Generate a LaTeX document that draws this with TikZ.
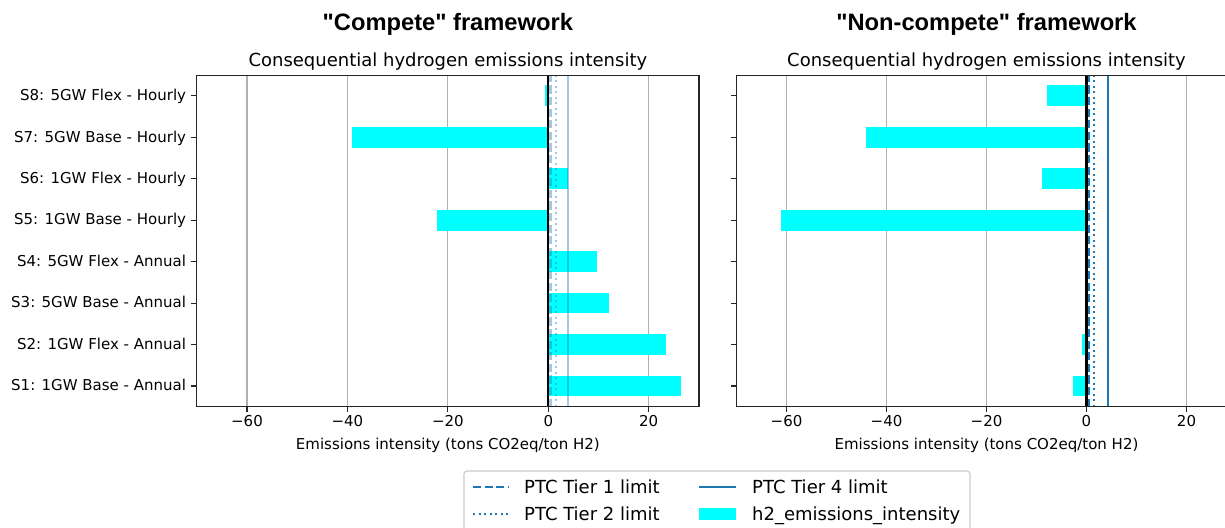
\documentclass[tikz,border=0pt]{standalone}
\usepackage{fontspec}
\setmainfont{DejaVu Sans}
\newfontfamily\titlefont{Liberation Sans}

\definecolor{tabblue}{HTML}{1F77B4}
\definecolor{barcyan}{HTML}{00FFFF}
\definecolor{gridgray}{HTML}{B0B0B0}
\definecolor{legendgray}{HTML}{CCCCCC}

\tikzset{
  framebox/.style={draw=black!85, line width=1.2pt},
  gridline/.style={draw=gridgray, line width=1.1pt},
  barfill/.style={fill=barcyan},
  tickmark/.style={draw=black!85, line width=1.2pt},
  zeroline/.style={draw=black, line width=2.2pt},
  tierone/.style={draw=tabblue, line width=2.2pt, dash pattern=on 8.1pt off 3.5pt},
  tiertwo/.style={draw=tabblue, line width=2.2pt, dash pattern=on 2.2pt off 3.3pt},
  tierfour/.style={draw=tabblue, line width=2.2pt},
  faded/.style={draw opacity=0.4},
  titletext/.style={font=\titlefont\bfseries\fontsize{23.7}{28}\selectfont, inner sep=0pt},
  subtitletext/.style={font=\fontsize{18}{22}\selectfont, inner sep=0pt},
  ticktext/.style={font=\fontsize{15}{18}\selectfont, inner sep=0pt},
  legendtext/.style={font=\fontsize{18}{22}\selectfont, inner sep=0pt, anchor=base west},
  legendframe/.style={draw=legendgray, line width=1.2pt, fill=white, rounded corners=3pt}
}

\begin{document}
\begin{tikzpicture}[x=1pt, y=-1pt]
  \clip (0,0) rectangle (1225,527);
  \fill[white] (0,0) rectangle (1225,527);

  \begin{scope}[shift={(548.3,386)}, x=5.022pt, y=41.45pt]
    \foreach \t in {-60,-40,...,20}
      \draw[gridline] (\t,-0.5) -- (\t,7.5);
    \foreach \v [count=\i from 0] in {26.4,23.4,12.1,9.6,-22.1,4.0,-39.1,-0.6}
      \fill[barfill] (0,\i-0.25) rectangle (\v,\i+0.25);
    \draw[zeroline] (0,-0.5) -- (0,7.5);
    \draw[tierone, faded] (0.45,-0.5) -- (0.45,7.5);
    \draw[tiertwo, faded] (1.5,-0.5) -- (1.5,7.5);
    \draw[tierfour, faded] (4,-0.5) -- (4,7.5);
    \draw[framebox] (-70,-0.5) rectangle (30,7.5);
    \foreach \lab [count=\i from 0] in {S1: 1GW Base - Annual,S2: 1GW Flex - Annual,S3: 5GW Base - Annual,S4: 5GW Flex - Annual,S5: 1GW Base - Hourly,S6: 1GW Flex - Hourly,S7: 5GW Base - Hourly,S8: 5GW Flex - Hourly}
    {
      \draw[tickmark] (-70,\i) -- ++(-5.5pt,0pt);
      \node[ticktext, anchor=mid east, xshift=-10.5pt, yshift=-2pt] (lcat\i) at (-70,\i) {\lab};
    }
    \foreach \t/\lab in {-60/−60,-40/−40,-20/−20,0/0,20/20}
    {
      \draw[tickmark] (\t,-0.5) -- ++(0pt,-5.5pt);
      \node[ticktext, anchor=base] at (\t,-0.5) [yshift=-19.8pt] {\lab};
    }
    \node[ticktext, anchor=base, yshift=-42.8pt] (lxlabel) at (-20,-0.5) {Emissions intensity (tons CO2eq/ton H2)};
    \node[subtitletext, anchor=base, yshift=9pt] (lsub) at (-20,7.5) {Consequential hydrogen emissions intensity};
    \node[titletext, anchor=base, yshift=45pt] (ltitle) at (-20,7.5) {"Compete" framework};
  \end{scope}

  \begin{scope}[shift={(1086.5,386)}, x=5pt, y=41.45pt]
    \foreach \t in {-60,-40,...,20}
      \draw[gridline] (\t,-0.5) -- (\t,7.5);
    \foreach \v [count=\i from 0] in {-2.7,-1.0,-0.2,0.3,-61.1,-9.0,-44.1,-8.0}
      \fill[barfill] (0,\i-0.25) rectangle (\v,\i+0.25);
    \draw[zeroline] (0,-0.5) -- (0,7.5);
    \draw[tierone] (0.45,-0.5) -- (0.45,7.5);
    \draw[tiertwo] (1.5,-0.5) -- (1.5,7.5);
    \draw[tierfour] (4.3,-0.5) -- (4.3,7.5);
    \draw[framebox] (-70,-0.5) rectangle (30,7.5);
    \foreach \i in {0,...,7}
      \draw[tickmark] (-70,\i) -- ++(-5.5pt,0pt);
    \foreach \t/\lab in {-60/−60,-40/−40,-20/−20,0/0,20/20}
    {
      \draw[tickmark] (\t,-0.5) -- ++(0pt,-5.5pt);
      \node[ticktext, anchor=base] at (\t,-0.5) [yshift=-19.8pt] {\lab};
    }
    \node[ticktext, anchor=base, yshift=-42.8pt] (rxlabel) at (-20,-0.5) {Emissions intensity (tons CO2eq/ton H2)};
    \node[subtitletext, anchor=base, yshift=9pt] (rsub) at (-20,7.5) {Consequential hydrogen emissions intensity};
    \node[titletext, anchor=base, yshift=45pt] (rtitle) at (-20,7.5) {"Non-compete" framework};
  \end{scope}

  \draw[legendframe] (464,471) rectangle (970,545);
  \draw[tierone] (473,487) -- (509,487);
  \draw[tiertwo] (473,514) -- (509,514);
  \draw[tierfour] (699,487) -- (736,487);
  \fill[barfill] (699,508) rectangle (736,520);
  \node[legendtext] (leg1) at (524,493.5) {PTC Tier 1 limit};
  \node[legendtext] (leg2) at (524,520.5) {PTC Tier 2 limit};
  \node[legendtext] (leg4) at (752,493.5) {PTC Tier 4 limit};
  \node[legendtext] (legh) at (752,520.5) {h2\_emissions\_intensity};
\end{tikzpicture}
\end{document}
